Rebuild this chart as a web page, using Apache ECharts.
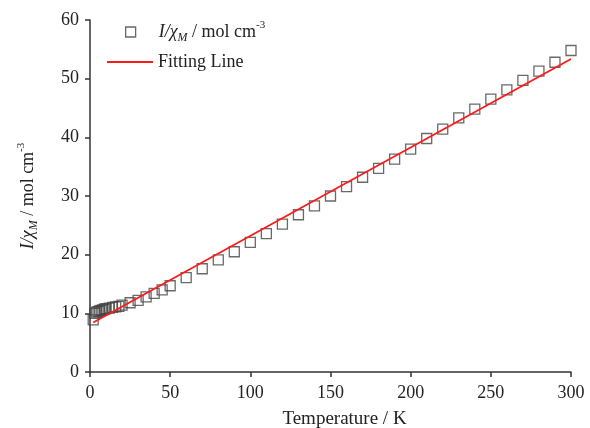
<!DOCTYPE html>
<html><head><meta charset="utf-8">
<script src="https://cdn.jsdelivr.net/npm/echarts@6/dist/echarts.min.js"></script>
<style>html,body{margin:0;padding:0;background:#fff}#c{width:590px;height:428px}</style>
</head><body><div id="c"></div>
<script>
var tempK = [2,3,4,5,6,7,8,9,10,12,14,16,18,20,25,30,35,40,45,50,60,70,80,90,100,110,120,130,140,150,160,170,180,190,200,210,220,230,240,250,260,270,280,290,300];
var invChi = [8.9,10.0,10.2,10.3,10.4,10.5,10.6,10.7,10.8,10.9,11.0,11.1,11.2,11.4,11.8,12.2,12.8,13.4,14.0,14.7,16.1,17.6,19.1,20.5,22.1,23.6,25.2,26.8,28.3,30.0,31.6,33.2,34.7,36.3,38.0,39.8,41.4,43.3,44.8,46.5,48.1,49.7,51.3,52.8,54.8];
var fitT = [2, 300];
var fitY = [8.45, 53.35];
var xTicks = [0,50,100,150,200,250,300];
var yTicks = [0,10,20,30,40,50,60];

var FONT = '"Liberation Serif","Times New Roman",serif';
var rich = {
  i:{fontFamily:FONT,fontStyle:'italic',fontSize:18,lineHeight:24,color:'#222'},
  sub:{fontFamily:FONT,fontStyle:'italic',fontSize:12,lineHeight:13,verticalAlign:'bottom',color:'#222'},
  n:{fontFamily:FONT,fontSize:18,lineHeight:24,color:'#222'},
  sup:{fontFamily:FONT,fontSize:11,lineHeight:12,verticalAlign:'top',color:'#222'}
};
var chiLabel = '{i|I/χ}{sub|M}{n| / mol cm}{sup|-3}';

var chart = echarts.init(document.getElementById('c'));
chart.setOption({
  animation:false,
  backgroundColor:'#fff',
  grid:{left:90,right:19,top:20,bottom:56,containLabel:false,outerBoundsMode:'none'},
  legend:[{
    data:[{name:'chi',icon:'rect',itemStyle:{color:'rgba(0,0,0,0)',borderColor:'#444',borderWidth:1.3}}],
    left:125, top:20, padding:0, itemWidth:10, itemHeight:10,
    formatter:function(){return chiLabel;},
    textStyle:{rich:rich,padding:[0,0,0,18]}
  },{
    data:[{name:'fit',icon:'rect',itemStyle:{color:'#ff1a1a'}}], left:107, top:53, padding:0, itemWidth:46, itemHeight:2,
    formatter:function(){return 'Fitting Line';},
    textStyle:{fontFamily:FONT,fontSize:18,color:'#222'}
  }],
  xAxis:{
    type:'value', min:0, max:300, interval:50,
    name:'Temperature / K', nameLocation:'middle', nameGap:38,
    nameTextStyle:{fontFamily:FONT,fontSize:19,color:'#222',padding:[0,0,0,28]},
    axisLine:{lineStyle:{color:'#333',width:1.5}},
    axisTick:{length:5,lineStyle:{color:'#333',width:1.5}},
    axisLabel:{fontFamily:FONT,fontSize:18,color:'#222',margin:12,
      formatter:function(v){return xTicks.indexOf(v)>=0?String(v):'';}},
    splitLine:{show:false}
  },
  yAxis:{
    type:'value', min:0, max:60, interval:10,
    name:chiLabel, nameLocation:'middle', nameGap:50, nameRotate:90,
    nameTextStyle:{rich:rich},
    axisLine:{show:true,lineStyle:{color:'#333',width:1.5}},
    axisTick:{show:true,length:5,lineStyle:{color:'#333',width:1.5}},
    axisLabel:{fontFamily:FONT,fontSize:18,color:'#222',margin:11,
      formatter:function(v){return yTicks.indexOf(v)>=0?String(v):'';}},
    splitLine:{show:false}
  },
  series:[{
    name:'chi', type:'scatter', symbol:'rect', symbolSize:10,
    itemStyle:{color:'rgba(0,0,0,0)',borderColor:'#444',borderWidth:1.3},
    data:tempK.map(function(t,i){return [t,invChi[i]];}), z:2
  },{
    name:'fit', type:'line', symbol:'none', showSymbol:false,
    lineStyle:{color:'#ff1a1a',width:1.8}, itemStyle:{color:'#ff1a1a'},
    data:fitT.map(function(t,i){return [t,fitY[i]];}), z:3
  }]
});
</script></body></html>
